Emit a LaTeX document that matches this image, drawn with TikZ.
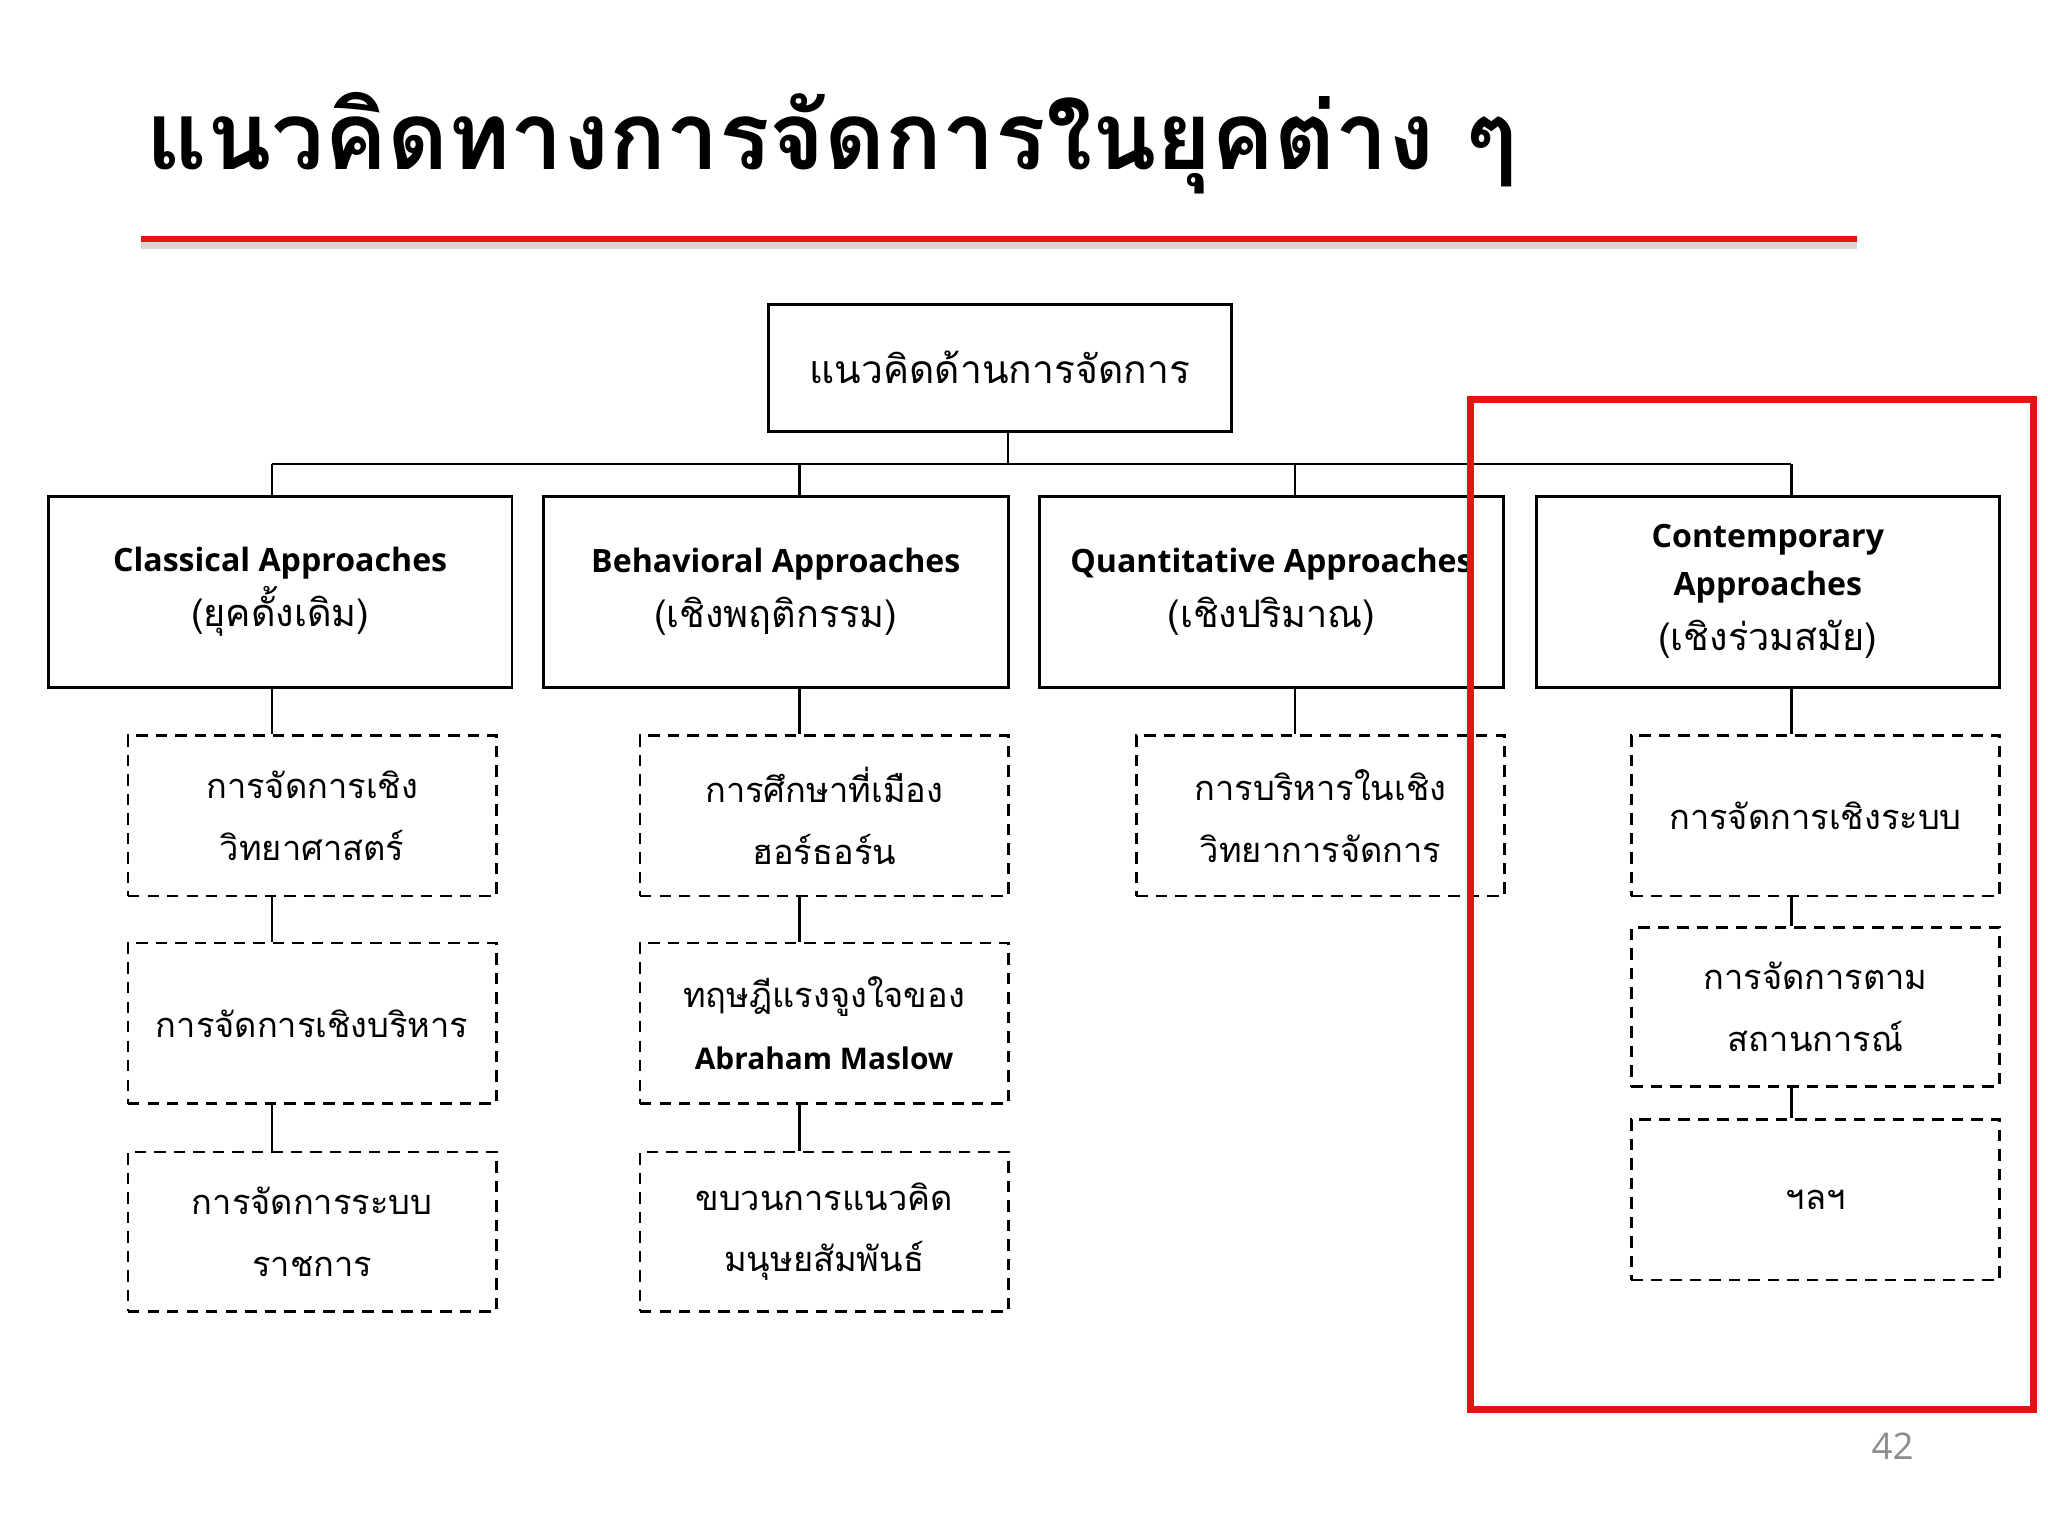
\documentclass[tikz,border=0pt]{standalone}
\usepackage{fontspec}
\setmainfont{Open Sans}
\newfontfamily\thf[Script=Thai]{Loma}
\definecolor{redline}{RGB}{228,20,20}
\tikzset{
 lvl/.style={draw, line width=1.3pt, align=center, inner sep=2pt, font=\fontsize{14}{21}\selectfont},
 sub/.style={draw, dashed, line width=1.1pt, dash pattern=on 5pt off 3.5pt, align=center, font=\thf\fontsize{15}{27}\selectfont},
 conn/.style={line width=1pt},
}
\newcommand\thl{\thf\fontsize{16.5}{21}\selectfont}
\newcommand\bx[6]{\node[#1, minimum width={(#4-#2)*0.02cm}, minimum height={(#5-#3)*0.02cm}] (#6) at ({(#2+#4)/2},{(#3+#5)/2})}
\begin{document}
\begin{tikzpicture}[x=0.02cm,y=-0.02cm]
\useasboundingbox (0,0) rectangle (1568,1176);
\node[anchor=base west, font=\thf\bfseries\fontsize{41}{50}\selectfont, inner sep=0] (title) at (112,130) {แนวคิดทางการจัดการในยุคต่าง ๆ};
\coordinate (rl1) at (108,183); \coordinate (rl2) at (1422,183);
\draw[black!30, line width=5pt, opacity=.5] ([yshift=-0.06cm]rl1) -- ([yshift=-0.06cm]rl2);
\draw[redline, line width=2.5pt] (rl1) -- (rl2);

\bx{lvl}{588}{233}{943}{330}{top} {\thf\fontsize{17}{20}\selectfont แนวคิดด้านการจัดการ};
\bx{lvl}{37}{380}{392}{526}{c1} {\bfseries Classical Approaches\\[3pt]\thl (ยุคดั้งเดิม)};
\bx{lvl}{416}{380}{772}{526}{c2} {\bfseries Behavioral Approaches\\[3pt]\thl (เชิงพฤติกรรม)};
\bx{lvl}{796}{380}{1151}{526}{c3} {\bfseries Quantitative Approaches\\[3pt]\thl (เชิงปริมาณ)};
\bx{lvl}{1176}{380}{1531}{526}{c4} {\bfseries Contemporary\\\bfseries Approaches\\[3pt]\thl (เชิงร่วมสมัย)};

\bx{sub}{98}{563}{380}{686}{a1} {การจัดการเชิง\\วิทยาศาสตร์};
\bx{sub}{98}{722}{380}{845}{a2} {การจัดการเชิงบริหาร};
\bx{sub}{98}{882}{380}{1004}{a3} {การจัดการระบบ\\ราชการ};
\bx{sub}{490}{563}{772}{686}{b1} {การศึกษาที่เมือง\\ฮอร์ธอร์น};
\bx{sub}{490}{722}{772}{845}{b2} {ทฤษฎีแรงจูงใจของ\\{\fontspec{Open Sans}\bfseries\fontsize{13}{16}\selectfont Abraham Maslow}};
\bx{sub}{490}{882}{772}{1004}{b3} {ขบวนการแนวคิด\\มนุษยสัมพันธ์};
\bx{sub}{870}{563}{1152}{686}{q1} {การบริหารในเชิง\\วิทยาการจัดการ};
\bx{sub}{1249}{563}{1531}{686}{d1} {การจัดการเชิงระบบ};
\bx{sub}{1249}{710}{1531}{832}{d2} {การจัดการตาม\\สถานการณ์};
\bx{sub}{1249}{857}{1531}{980}{d3} {ฯลฯ};

\coordinate (bus) at (0,355);
\draw[conn] ([xshift=0.12cm]top.south) -- ([xshift=0.12cm]top.south |- bus);
\draw[conn] ([xshift=-0.13cm]c1.north |- bus) -- ([xshift=0.36cm]c4.north |- bus);
\foreach \c/\s in {c1/-0.13, c2/0.36, c3/0.36, c4/0.36} {
  \draw[conn] ([xshift=\s cm]\c.north |- bus) -- ([xshift=\s cm]\c.north);
}
\draw[conn] ([xshift=-0.13cm]c1.south) -- ([xshift=-0.13cm]c1.south |- a1.north);
\draw[conn] ([xshift=-0.13cm]c1.south |- a1.south) -- ([xshift=-0.13cm]c1.south |- a2.north);
\draw[conn] ([xshift=-0.13cm]c1.south |- a2.south) -- ([xshift=-0.13cm]c1.south |- a3.north);
\draw[conn] ([xshift=0.36cm]c2.south) -- ([xshift=0.36cm]c2.south |- b1.north);
\draw[conn] ([xshift=0.36cm]c2.south |- b1.south) -- ([xshift=0.36cm]c2.south |- b2.north);
\draw[conn] ([xshift=0.36cm]c2.south |- b2.south) -- ([xshift=0.36cm]c2.south |- b3.north);
\draw[conn] ([xshift=0.36cm]c3.south) -- ([xshift=0.36cm]c3.south |- q1.north);
\draw[conn] ([xshift=0.36cm]c4.south) -- ([xshift=0.36cm]c4.south |- d1.north);
\draw[conn] ([xshift=0.36cm]c4.south |- d1.south) -- ([xshift=0.36cm]c4.south |- d2.north);
\draw[conn] ([xshift=0.36cm]c4.south |- d2.south) -- ([xshift=0.36cm]c4.south |- d3.north);

\coordinate (r1) at (1126,306); \coordinate (r2) at (1557,1079);
\draw[redline, line width=3pt] (r1) rectangle (r2);
\node[text=black!45, font=\fontsize{16}{18}\selectfont] (pg) at (1449,1107) {42};
\end{tikzpicture}
\end{document}
